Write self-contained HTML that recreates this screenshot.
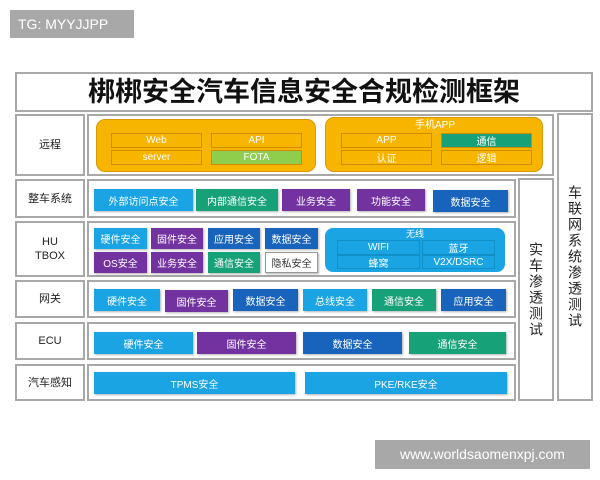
<!DOCTYPE html><html><head><meta charset="utf-8"><style>
*{margin:0;padding:0;box-sizing:border-box}
body{width:600px;height:480px;background:#fff;position:relative;overflow:hidden;font-family:"Liberation Sans","Noto Sans CJK SC",sans-serif}
div{position:absolute}
.b{border:2px solid #a8a8a8;background:#fff}
.l{display:flex;align-items:center;justify-content:center;font-size:11px;color:#222;text-align:center;line-height:14px}
.c{display:flex;align-items:center;justify-content:center;font-size:10px;color:#fff;box-shadow:1px 1px 2px rgba(0,0,0,.3)}
.lb{background:#1ba4e4}.pu{background:#7232a0}.db{background:#1863bb}.gr{background:#17a178}
.y{background:#f7b500;border-radius:9px;border:1px solid #d99a00}
.yc{border:1px solid #d08c00;display:flex;align-items:center;justify-content:center;font-size:10px;color:#fff}
.wc{border:1px solid #1190c8;display:flex;align-items:center;justify-content:center;font-size:10px;color:#fff}
.v{writing-mode:vertical-rl;text-orientation:upright;font-size:14px;color:#222;display:flex;align-items:center;justify-content:center;letter-spacing:2px}
</style></head><body>
<div style="left:10px;top:10px;width:124px;height:28px;background:#a8a8a8;color:#fff;font-size:14px;line-height:28px;padding-left:8px">TG: MYYJJPP</div>
<div class="b l" style="left:15px;top:72px;width:578px;height:40px;font-size:27px;font-weight:bold;color:#111">梆梆安全汽车信息安全合规检测框架</div>

<div class="b l" style="left:15px;top:114px;width:70px;height:62px">远程</div>
<div class="b" style="left:87px;top:114px;width:467px;height:62px"></div>
<div class="y" style="left:96px;top:119px;width:220px;height:53px"></div>
<div class="yc" style="left:111px;top:133px;width:91px;height:15px">Web</div>
<div class="yc" style="left:211px;top:133px;width:91px;height:15px">API</div>
<div class="yc" style="left:111px;top:150px;width:91px;height:15px">server</div>
<div class="yc" style="left:211px;top:150px;width:91px;height:15px;background:#8fce4c">FOTA</div>
<div class="y" style="left:325px;top:117px;width:218px;height:55px"></div>
<div class="l" style="left:400px;top:119px;width:70px;height:13px;color:#fff;font-size:10px">手机APP</div>
<div class="yc" style="left:341px;top:133px;width:91px;height:15px">APP</div>
<div class="yc" style="left:441px;top:133px;width:91px;height:15px;background:#17a178">通信</div>
<div class="yc" style="left:341px;top:150px;width:91px;height:15px">认证</div>
<div class="yc" style="left:441px;top:150px;width:91px;height:15px">逻辑</div>

<div class="b v" style="left:557px;top:113px;width:36px;height:288px">车联网系统渗透测试</div>
<div class="b v" style="left:518px;top:178px;width:36px;height:223px">实车渗透测试</div>

<div class="b l" style="left:15px;top:179px;width:70px;height:39px">整车系统</div>
<div class="b" style="left:87px;top:179px;width:429px;height:39px"></div>
<div class="c lb" style="left:94px;top:189px;width:99px;height:22px">外部访问点安全</div>
<div class="c gr" style="left:196px;top:189px;width:82px;height:22px">内部通信安全</div>
<div class="c pu" style="left:282px;top:189px;width:68px;height:22px">业务安全</div>
<div class="c pu" style="left:357px;top:189px;width:68px;height:22px">功能安全</div>
<div class="c db" style="left:433px;top:190px;width:75px;height:22px">数据安全</div>

<div class="b l" style="left:15px;top:221px;width:70px;height:56px">HU<br>TBOX</div>
<div class="b" style="left:87px;top:221px;width:429px;height:56px"></div>
<div class="c lb" style="left:94px;top:228px;width:53px;height:21px">硬件安全</div>
<div class="c pu" style="left:151px;top:228px;width:52px;height:21px">固件安全</div>
<div class="c db" style="left:208px;top:228px;width:52px;height:21px">应用安全</div>
<div class="c db" style="left:265px;top:228px;width:53px;height:21px">数据安全</div>
<div class="c pu" style="left:94px;top:252px;width:53px;height:21px">OS安全</div>
<div class="c pu" style="left:151px;top:252px;width:52px;height:21px">业务安全</div>
<div class="c gr" style="left:208px;top:252px;width:52px;height:21px">通信安全</div>
<div class="c" style="left:265px;top:252px;width:53px;height:21px;background:#fff;color:#333;border:1px solid #999">隐私安全</div>
<div style="left:325px;top:228px;width:180px;height:44px;background:#1ba4e4;border-radius:8px"></div>
<div class="l" style="left:395px;top:228px;width:40px;height:12px;color:#fff;font-size:9px">无线</div>
<div class="wc" style="left:337px;top:240px;width:83px;height:15px">WIFI</div>
<div class="wc" style="left:422px;top:240px;width:73px;height:15px">蓝牙</div>
<div class="wc" style="left:337px;top:255px;width:83px;height:14px">蜂窝</div>
<div class="wc" style="left:422px;top:255px;width:73px;height:14px">V2X/DSRC</div>

<div class="b l" style="left:15px;top:280px;width:70px;height:38px">网关</div>
<div class="b" style="left:87px;top:280px;width:429px;height:38px"></div>
<div class="c lb" style="left:94px;top:289px;width:66px;height:22px">硬件安全</div>
<div class="c pu" style="left:165px;top:290px;width:63px;height:22px">固件安全</div>
<div class="c db" style="left:233px;top:289px;width:65px;height:22px">数据安全</div>
<div class="c lb" style="left:303px;top:289px;width:64px;height:22px">总线安全</div>
<div class="c gr" style="left:372px;top:289px;width:64px;height:22px">通信安全</div>
<div class="c db" style="left:441px;top:289px;width:65px;height:22px">应用安全</div>

<div class="b l" style="left:15px;top:322px;width:70px;height:38px">ECU</div>
<div class="b" style="left:87px;top:322px;width:429px;height:38px"></div>
<div class="c lb" style="left:94px;top:332px;width:99px;height:22px">硬件安全</div>
<div class="c pu" style="left:197px;top:332px;width:99px;height:22px">固件安全</div>
<div class="c db" style="left:303px;top:332px;width:99px;height:22px">数据安全</div>
<div class="c gr" style="left:409px;top:332px;width:97px;height:22px">通信安全</div>

<div class="b l" style="left:15px;top:364px;width:70px;height:37px">汽车感知</div>
<div class="b" style="left:87px;top:364px;width:429px;height:37px"></div>
<div class="c lb" style="left:94px;top:372px;width:201px;height:22px">TPMS安全</div>
<div class="c lb" style="left:305px;top:372px;width:202px;height:22px">PKE/RKE安全</div>

<div style="left:375px;top:440px;width:215px;height:29px;background:#a8a8a8;color:#fff;font-size:14px;line-height:29px;text-align:center">www.worldsaomenxpj.com</div>
</body></html>
